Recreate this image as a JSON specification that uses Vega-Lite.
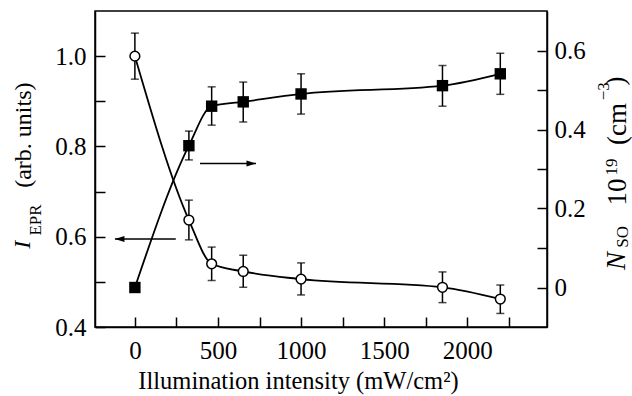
{
  "$schema": "https://vega.github.io/schema/vega-lite/v6.json",
  "width": 452,
  "height": 316,
  "autosize": "none",
  "padding": {"left": 95, "top": 11, "right": 85, "bottom": 69},
  "config": {
    "view": {"stroke": "#000", "strokeWidth": 1.5},
    "font": "Liberation Serif",
    "axis": {
      "domainColor": "#000", "domainWidth": 1.5,
      "tickColor": "#000", "tickWidth": 1.5, "tickSize": -10,
      "labelFont": "Liberation Serif", "labelFontSize": 25, "labelColor": "#000",
      "grid": false,
      "titleFont": "Liberation Serif", "titleColor": "#000", "titleFontWeight": "normal"
    }
  },
  "datasets": {
    "epr": [
      {"x": 0, "v": 1.0, "lo": 0.949, "hi": 1.051},
      {"x": 325, "v": 0.637, "lo": 0.593, "hi": 0.681},
      {"x": 462, "v": 0.540, "lo": 0.503, "hi": 0.577},
      {"x": 652, "v": 0.523, "lo": 0.488, "hi": 0.559},
      {"x": 1000, "v": 0.506, "lo": 0.471, "hi": 0.542},
      {"x": 1851, "v": 0.488, "lo": 0.454, "hi": 0.522},
      {"x": 2199, "v": 0.462, "lo": 0.430, "hi": 0.493}
    ],
    "nso": [
      {"x": 0, "v": 0.0},
      {"x": 325, "v": 0.359},
      {"x": 462, "v": 0.459},
      {"x": 652, "v": 0.470},
      {"x": 1000, "v": 0.490},
      {"x": 1851, "v": 0.511},
      {"x": 2199, "v": 0.541}
    ],
    "nsoerr": [
      {"x": 325, "lo": 0.323, "hi": 0.396},
      {"x": 462, "lo": 0.411, "hi": 0.508},
      {"x": 652, "lo": 0.419, "hi": 0.520},
      {"x": 1000, "lo": 0.439, "hi": 0.541},
      {"x": 1851, "lo": 0.459, "hi": 0.562},
      {"x": 2199, "lo": 0.489, "hi": 0.593}
    ],
    "larrow": [{"x": 246, "x2": -120, "v": 0.595}],
    "rarrow": [{"x": 392, "x2": 729, "v": 0.314}],
    "ltitle": [
      {"t": "I", "part": "main-it", "x": -631, "v": 0.582},
      {"t": "EPR", "part": "sub", "x": -565, "v": 0.637},
      {"t": "(arb. units)", "part": "main", "x": -625, "v": 0.825}
    ],
    "rtitle": [
      {"t": "N", "part": "main-it", "x": 2949, "v": 0.067},
      {"t": "SO", "part": "sub", "x": 2965, "v": 0.128},
      {"t": "10", "part": "main", "x": 2955, "v": 0.242},
      {"t": "19", "part": "sub", "x": 2901, "v": 0.305},
      {"t": "(cm", "part": "main", "x": 2955, "v": 0.414},
      {"t": "−3", "part": "sub", "x": 2853, "v": 0.497},
      {"t": ")", "part": "main", "x": 2943, "v": 0.523}
    ]
  },
  "encoding": {
    "x": {
      "field": "x", "type": "quantitative",
      "scale": {"domain": [-240, 2480], "nice": false, "zero": false},
      "axis": {
        "values": [0, 250, 500, 750, 1000, 1250, 1500, 1750, 2000, 2250],
        "format": "d",
        "labelExpr": "datum.value % 500 === 0 ? datum.label : ''",
        "labelPadding": 21,
        "title": "Illumination intensity (mW/cm²)",
        "titleFontSize": 24.5,
        "titleX": 203,
        "titlePadding": 6
      }
    }
  },
  "layer": [
    {
      "data": {"name": "epr"},
      "encoding": {
        "y": {
          "field": "v", "type": "quantitative",
          "scale": {"domain": [0.4, 1.1], "nice": false, "zero": false},
          "axis": {
            "orient": "left",
            "values": [0.4, 0.5, 0.6, 0.7, 0.8, 0.9, 1.0],
            "format": ".1f",
            "labelExpr": "round(datum.value * 10) % 2 === 0 ? datum.label : ''",
            "labelPadding": 19,
            "title": null
          }
        }
      },
      "layer": [
        {
          "mark": {"type": "errorbar", "color": "#000", "thickness": 1.5, "ticks": {"size": 8, "thickness": 1.5, "color": "#000"}},
          "encoding": {
            "y": {"field": "lo", "type": "quantitative", "title": null},
            "y2": {"field": "hi"}
          }
        },
        {
          "mark": {"type": "line", "interpolate": "monotone", "color": "#000", "strokeWidth": 1.8}
        },
        {
          "mark": {"type": "point", "shape": "circle", "filled": true, "fill": "#fff", "stroke": "#000", "strokeWidth": 1.5, "size": 95, "opacity": 1}
        },
        {
          "data": {"name": "larrow"},
          "mark": {"type": "rule", "color": "#000", "strokeWidth": 1.5},
          "encoding": {"x2": {"field": "x2"}}
        },
        {
          "data": {"name": "larrow"},
          "mark": {"type": "point", "shape": "M0,0L1,-0.32L1,0.32Z", "filled": true, "fill": "#000", "strokeWidth": 0, "size": 361, "opacity": 1},
          "encoding": {"x": {"field": "x2", "type": "quantitative"}}
        },
        {
          "data": {"name": "ltitle"},
          "transform": [{"filter": "datum.part === 'main-it'"}],
          "mark": {"type": "text", "fontStyle": "italic", "fontSize": 24, "angle": 270, "align": "center", "baseline": "alphabetic", "color": "#000"},
          "encoding": {"text": {"field": "t"}}
        },
        {
          "data": {"name": "ltitle"},
          "transform": [{"filter": "datum.part === 'sub'"}],
          "mark": {"type": "text", "fontSize": 17, "angle": 270, "align": "center", "baseline": "alphabetic", "color": "#000"},
          "encoding": {"text": {"field": "t"}}
        },
        {
          "data": {"name": "ltitle"},
          "transform": [{"filter": "datum.part === 'main'"}],
          "mark": {"type": "text", "fontSize": 24, "angle": 270, "align": "center", "baseline": "alphabetic", "color": "#000"},
          "encoding": {"text": {"field": "t"}}
        }
      ]
    },
    {
      "data": {"name": "nso"},
      "encoding": {
        "y": {
          "field": "v", "type": "quantitative",
          "scale": {"domain": [-0.1, 0.7], "nice": false, "zero": false},
          "axis": {
            "orient": "right",
            "values": [0, 0.1, 0.2, 0.3, 0.4, 0.5, 0.6],
            "labelExpr": "datum.value === 0 ? '0' : (round(datum.value * 10) % 2 === 0 ? format(datum.value, '.1f') : '')",
            "labelPadding": 17,
            "title": null
          }
        }
      },
      "layer": [
        {
          "data": {"name": "nsoerr"},
          "mark": {"type": "errorbar", "color": "#000", "thickness": 1.5, "ticks": {"size": 8, "thickness": 1.5, "color": "#000"}},
          "encoding": {
            "y": {"field": "lo", "type": "quantitative", "title": null},
            "y2": {"field": "hi"}
          }
        },
        {
          "mark": {"type": "line", "interpolate": "monotone", "color": "#000", "strokeWidth": 1.8}
        },
        {
          "mark": {"type": "point", "shape": "square", "filled": true, "fill": "#000", "strokeWidth": 0, "size": 130, "opacity": 1}
        },
        {
          "data": {"name": "rarrow"},
          "mark": {"type": "rule", "color": "#000", "strokeWidth": 1.5},
          "encoding": {"x2": {"field": "x2"}}
        },
        {
          "data": {"name": "rarrow"},
          "mark": {"type": "point", "shape": "M0,0L-1,-0.32L-1,0.32Z", "filled": true, "fill": "#000", "strokeWidth": 0, "size": 361, "opacity": 1},
          "encoding": {"x": {"field": "x2", "type": "quantitative"}}
        },
        {
          "data": {"name": "rtitle"},
          "transform": [{"filter": "datum.part === 'main-it'"}],
          "mark": {"type": "text", "fontStyle": "italic", "fontSize": 27, "angle": 270, "align": "center", "baseline": "alphabetic", "color": "#000"},
          "encoding": {"text": {"field": "t"}}
        },
        {
          "data": {"name": "rtitle"},
          "transform": [{"filter": "datum.part === 'sub'"}],
          "mark": {"type": "text", "fontSize": 17, "angle": 270, "align": "center", "baseline": "alphabetic", "color": "#000"},
          "encoding": {"text": {"field": "t"}}
        },
        {
          "data": {"name": "rtitle"},
          "transform": [{"filter": "datum.part === 'main'"}],
          "mark": {"type": "text", "fontSize": 27, "angle": 270, "align": "center", "baseline": "alphabetic", "color": "#000"},
          "encoding": {"text": {"field": "t"}}
        }
      ]
    }
  ],
  "resolve": {"scale": {"y": "independent"}}
}
